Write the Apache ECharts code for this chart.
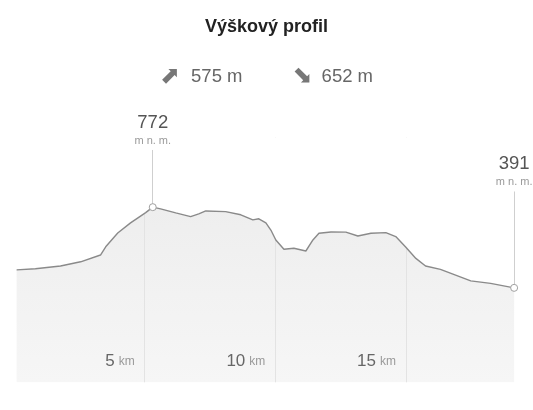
<!DOCTYPE html>
<html>
<head>
<meta charset="utf-8">
<script src="https://cdn.jsdelivr.net/npm/echarts@6/dist/echarts.min.js"></script>
<style>
  html, body { margin: 0; padding: 0; background: #fff; }
  #profil { width: 533px; height: 410px; }
</style>
</head>
<body>
<div id="profil"></div>
<script>
// vzdálenost (km) a nadmořská výška (m n. m.)
var distanceKm = [0.1, 0.82, 1.78, 2.55, 3.31, 3.51, 3.97, 4.46, 5.04, 5.31, 5.61, 6.19, 6.76, 7.07, 7.34, 8.1, 8.68, 9.14, 9.37, 9.64, 9.83, 10.02, 10.33, 10.71, 11.17, 11.44, 11.67, 12.13, 12.7, 13.16, 13.66, 14.23, 14.61, 14.98, 15.38, 15.75, 16.32, 16.9, 17.48, 18.24, 19.14];
var elevation = [476, 481, 494, 514, 546, 585, 650, 698, 746, 772, 764, 745, 727, 740, 754, 751, 736, 712, 717, 698, 664, 617, 573, 578, 565, 617, 649, 655, 654, 636, 649, 652, 633, 585, 530, 494, 478, 451, 424, 412, 391];
var xTicks = [5, 10, 15];
var ascent = 575;
var descent = 652;

var points = distanceKm.map(function (d, i) { return [d, elevation[i]]; });

var peakIdx = elevation.indexOf(Math.max.apply(null, elevation));
var lastIdx = elevation.length - 1;

// popisek nad bodem (svislá čára nahoru)
function pin(idx, stem) {
  return [
    { coord: points[idx] },
    { coord: [points[idx][0], points[idx][1] + stem], value: points[idx][1] }
  ];
}

var myChart = echarts.init(document.getElementById("profil"));
myChart.setOption({
  animation: false,
  title: {
    text: "Výškový profil",
    left: "center",
    top: 13,
    itemGap: 29,
    textStyle: {
      fontFamily: "Liberation Sans",
      fontSize: 18,
      fontWeight: "bold",
      color: "#222"
    },
    subtext: "{arr|⬈}{num|" + ascent + " m}{gap|}{arr2|⬊}{num|" + descent + " m}",
    subtextStyle: {
      rich: {
        arr: { fontFamily: "DejaVu Sans", fontSize: 24, color: "#777", padding: [0, 11, 0, 0] },
        arr2: { fontFamily: "DejaVu Sans", fontSize: 24, color: "#777", padding: [0, 9, 0, 0] },
        num: { fontFamily: "Liberation Sans", fontSize: 18.5, color: "#666" },
        gap: { width: 50 }
      }
    }
  },
  grid: {
    left: 14,
    right: 16,
    top: 137.7,
    bottom: 27.7
  },
  xAxis: {
    type: "value",
    min: 0,
    max: 19.25,
    interval: 5,
    z: 2,
    axisLine: { show: false },
    axisTick: { show: false },
    splitLine: {
      show: true,
      showMinLine: false,
      showMaxLine: false,
      lineStyle: { color: "#e3e3e3", width: 1 }
    },
    axisLabel: {
      inside: true,
      margin: 12,
      align: "right",
      padding: [0, 10, 0, 0],
      formatter: function (v) {
        return xTicks.indexOf(v) >= 0 ? "{n|" + v + "}{u|km}" : "";
      },
      rich: {
        n: { fontFamily: "Liberation Sans", fontSize: 17, color: "#666", padding: [0, 4, 0, 0] },
        u: { fontFamily: "Liberation Sans", fontSize: 12, color: "#999" }
      }
    }
  },
  yAxis: {
    type: "value",
    min: -55,
    max: 1100,
    show: false,
    splitLine: { show: false }
  },
  series: [
    {
      // šedá plocha pod profilem
      type: "line",
      data: points,
      symbol: "none",
      z: 1,
      lineStyle: { width: 0 },
      areaStyle: {
        origin: "start",
        opacity: 1,
        color: new echarts.graphic.LinearGradient(0, 0, 0, 1, [
          { offset: 0, color: "#eeeeee" },
          { offset: 1, color: "#f6f6f6" }
        ])
      }
    },
    {
      // bílá plocha nad profilem (skryje mřížku nad křivkou) + čára
      type: "line",
      data: points,
      symbol: "none",
      z: 3,
      lineStyle: { color: "#8a8a8a", width: 1.4 },
      areaStyle: { origin: "end", color: "#ffffff", opacity: 1 },
      markLine: {
        silent: true,
        symbol: "none",
        lineStyle: { color: "#cfcfcf", width: 1, type: "solid" },
        label: {
          position: "end",
          distance: 2,
          formatter: function (p) { return "{v|" + p.value + "}\n{u|m n. m.}"; },
          rich: {
            v: { fontFamily: "Liberation Sans", fontSize: 18.5, color: "#555", align: "center", lineHeight: 21 },
            u: { fontFamily: "Liberation Sans", fontSize: 11, color: "#9a9a9a", align: "center", lineHeight: 15 }
          }
        },
        emphasis: { disabled: true },
        data: [pin(peakIdx, 270), pin(lastIdx, 455)]
      },
      markPoint: {
        silent: true,
        symbol: "circle",
        symbolSize: 7,
        label: { show: false },
        itemStyle: { color: "#ffffff", borderColor: "#a0a0a0", borderWidth: 1 },
        data: [{ coord: points[peakIdx] }, { coord: points[lastIdx] }]
      }
    }
  ]
});
</script>
</body>
</html>
